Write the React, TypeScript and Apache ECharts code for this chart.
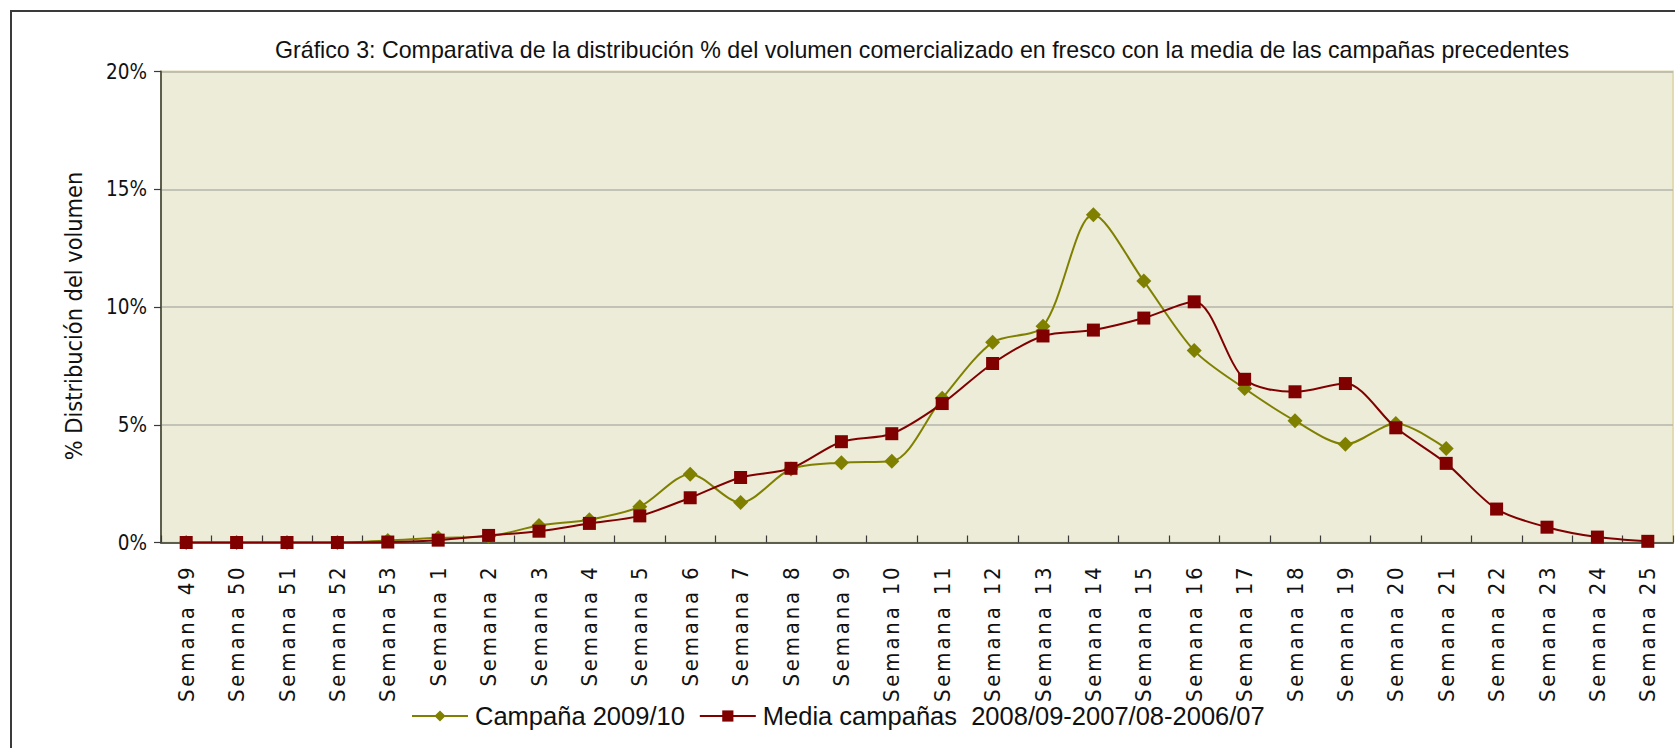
import React, { useEffect, useRef } from "react";
import * as echarts from "echarts";

const weeks: string[] = [
  "Semana 49", "Semana 50", "Semana 51", "Semana 52", "Semana 53",
  "Semana 1", "Semana 2", "Semana 3", "Semana 4", "Semana 5",
  "Semana 6", "Semana 7", "Semana 8", "Semana 9", "Semana 10",
  "Semana 11", "Semana 12", "Semana 13", "Semana 14", "Semana 15",
  "Semana 16", "Semana 17", "Semana 18", "Semana 19", "Semana 20",
  "Semana 21", "Semana 22", "Semana 23", "Semana 24", "Semana 25",
];

const campana0910: (number | null)[] = [
  0, 0, 0, 0, 0.08,
  0.2, 0.26, 0.72, 0.97, 1.52,
  2.9, 1.7, 3.12, 3.39, 3.45,
  6.12, 8.5, 9.18, 13.92, 11.1,
  8.15, 6.54, 5.17, 4.17, 5.05,
  3.99, null, null, null, null,
];

const mediaCampanas: number[] = [
  0, 0, 0, 0, 0.02,
  0.1, 0.3, 0.48, 0.81, 1.13,
  1.9, 2.76, 3.15, 4.28, 4.62,
  5.9, 7.6, 8.77, 9.02, 9.53,
  10.22, 6.93, 6.4, 6.75, 4.87,
  3.36, 1.42, 0.65, 0.23, 0.05,
];

const yTicks = { min: 0, max: 20, interval: 5 };

const titleText =
  "Gráfico 3: Comparativa de la distribución % del volumen comercializado en fresco con la media de las campañas precedentes";
const yName = "% Distribución del volumen";
const seriesNames = ["Campaña 2009/10", "Media campañas  2008/09-2007/08-2006/07"];

const AXIS_FONT = "'DejaVu Sans Condensed', 'DejaVu Sans', sans-serif";

export default function App() {
  const ref = useRef<HTMLDivElement>(null);

  useEffect(() => {
    if (!ref.current) return;
    const el = ref.current;
    const chart = echarts.init(el, null, { renderer: "svg" });
    chart.setOption({
      animation: false,
      backgroundColor: "#ffffff",
      title: {
        text: titleText,
        left: 275,
        top: 38,
        padding: 0,
        textStyle: {
          fontFamily: "'Liberation Sans', Arial, sans-serif",
          fontSize: 23.2,
          fontWeight: "normal",
          color: "#111111",
        },
      },
      legend: {
        left: 411,
        top: 703,
        padding: 0,
        itemWidth: 56,
        itemHeight: 14,
        itemGap: 14,
        textStyle: {
          fontFamily: "'Liberation Sans', Arial, sans-serif",
          fontSize: 25.5,
          color: "#111111",
          padding: [0, 0, 0, 2],
        },
        data: seriesNames,
      },
      grid: {
        left: 161,
        right: 2,
        top: 71.5,
        bottom: 205.5,
        show: true,
        backgroundColor: "#ECECD9",
        borderColor: "#E2DAB0",
        borderWidth: 2,
        containLabel: false,
      },
      graphic: [
        {
          type: "rect",
          shape: { x: 11, y: 11, width: 1700, height: 800 },
          style: { fill: "none", stroke: "#3a3a3a", lineWidth: 2 },
          silent: true,
          z: 100,
        },
        {
          type: "text",
          x: 73,
          y: 316,
          rotation: Math.PI / 2,
          style: {
            text: yName,
            fontFamily: AXIS_FONT,
            fontSize: 23.3,
            fill: "#111111",
            textAlign: "center",
            textVerticalAlign: "middle",
          },
        },
      ],
      xAxis: {
        type: "category",
        data: weeks,
        boundaryGap: true,
        axisLine: { show: true, lineStyle: { color: "#5E5E4C", width: 2 } },
        axisTick: {
          show: true,
          inside: true,
          length: 7,
          lineStyle: { color: "#3a3a3a", width: 1.2 },
        },
        axisLabel: {
          rotate: 90,
          interval: 0,
          margin: 22,
          fontFamily: AXIS_FONT,
          fontSize: 22,
          color: "#111111",
        },
        splitLine: { show: false },
      },
      yAxis: {
        type: "value",
        min: yTicks.min,
        max: yTicks.max,
        interval: yTicks.interval,
        axisLine: { show: true, lineStyle: { color: "#5E5E4C", width: 2 } },
        axisTick: {
          show: true,
          inside: false,
          length: 7,
          lineStyle: { color: "#3a3a3a", width: 1.2 },
        },
        axisLabel: {
          formatter: "{value}%",
          margin: 14,
          fontFamily: AXIS_FONT,
          fontSize: 20.5,
          color: "#111111",
        },
        splitLine: { show: true, lineStyle: { color: "#B4B4AA", width: 1.5 } },
      },
      series: [
        {
          name: seriesNames[0],
          type: "line",
          data: campana0910,
          smooth: 0.3,
          symbol: "diamond",
          symbolSize: 15,
          itemStyle: { color: "#808000" },
          lineStyle: { color: "#808000", width: 2 },
          z: 2,
        },
        {
          name: seriesNames[1],
          type: "line",
          data: mediaCampanas,
          smooth: 0.3,
          symbol: "rect",
          symbolSize: 13,
          itemStyle: { color: "#800000" },
          lineStyle: { color: "#800000", width: 2 },
          z: 3,
        },
      ],
    });

    // widen the spacing of the week labels, as in the reference rendering
    const applySpacing = () => {
      el.querySelectorAll("text").forEach((t) => {
        const s = (t.textContent || "").trim();
        if (weeks.indexOf(s) >= 0) {
          (t as SVGTextElement).style.letterSpacing = "2.8px";
        }
      });
    };
    chart.on("finished", applySpacing);
    applySpacing();
    const t1 = window.setTimeout(applySpacing, 30);
    const t2 = window.setTimeout(applySpacing, 200);

    return () => {
      window.clearTimeout(t1);
      window.clearTimeout(t2);
      chart.dispose();
    };
  }, []);

  return (
    <div
      ref={ref}
      style={{ position: "fixed", left: 0, top: 0, width: 1675, height: 748 }}
    />
  );
}
